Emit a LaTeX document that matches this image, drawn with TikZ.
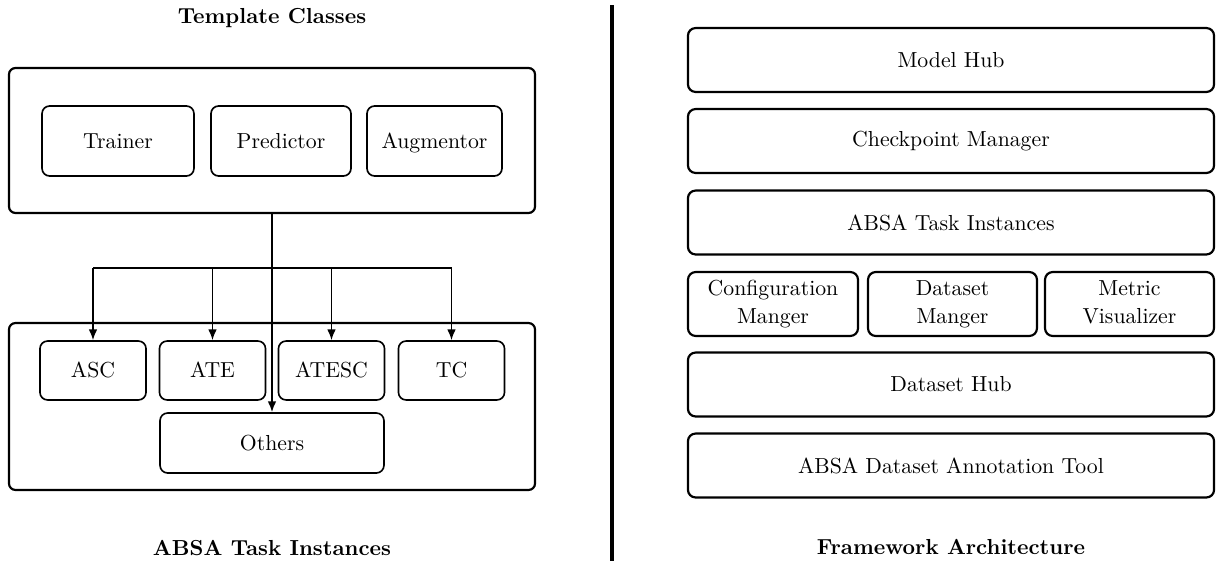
\documentclass[tikz,border=0pt]{standalone}
\usepackage{amsmath}
\usepackage{amssymb}
\usepackage{tikz}
\usetikzlibrary{arrows.meta}

\begin{document}
\begin{tikzpicture}[x=0.46pt,y=0.46pt,yscale=-1,xscale=1,
  frame/.style={draw, line width=1pt, rounded corners=3pt, inner sep=0pt},
  box/.style={draw, line width=0.75pt, rounded corners=3.5pt, align=center, inner sep=0pt, text height=8.8pt, text depth=2pt},
  layer/.style={draw, line width=1pt, rounded corners=3.5pt, align=center, inner sep=0pt, minimum height=29.4pt},
  link/.style={line width=0.75pt, -{Latex[length=5pt,width=4pt]}}]
\useasboundingbox (0,0) rectangle (1217,561);

%Left part: template classes
\node[frame, minimum width=242pt, minimum height=66.7pt] (tmpl) at (272,140.5) {};
\node[box, minimum width=69.9pt, minimum height=32.2pt] (trainer) at (118,141) {Trainer};
\node[box, minimum width=64.4pt, minimum height=32.2pt] (predictor) at (281,141) {Predictor};
\node[box, minimum width=62.1pt, minimum height=32.2pt] (augmentor) at (434.5,141) {Augmentor};

%Left part: task instances
\node[frame, minimum width=242pt, minimum height=76.8pt] (tasks) at (272,406.5) {};
\node[box, minimum width=48.8pt, minimum height=27.1pt] (asc) at (93,370.5) {ASC};
\node[box, minimum width=48.8pt, minimum height=27.1pt] (ate) at (212.5,370.5) {ATE};
\node[box, minimum width=48.8pt, minimum height=27.1pt] (atesc) at (331.5,370.5) {ATESC};
\node[box, minimum width=48.8pt, minimum height=27.1pt] (tc) at (451.5,370.5) {TC};
\node[box, minimum width=103pt, minimum height=27.6pt] (others) at (272,443) {Others};

%Connectors
\coordinate (bus) at (272,268);
\draw [line width=0.75pt] (asc.north |- bus) -- (tc.north |- bus) ;
\draw [link] (asc.north |- bus) -- (asc.north) ;
\draw [link] (ate.north |- bus) -- (ate.north) ;
\draw [link] (atesc.north |- bus) -- (atesc.north) ;
\draw [link] (tc.north |- bus) -- (tc.north) ;
\draw [link] (tmpl.south) -- (others.north) ;

% Text Node
\node[font=\bfseries] (ttmpl) at (272,18) {Template Classes};
% Text Node
\node[font=\bfseries] (ttasks) at (272,548) {ABSA Task Instances};

%Divider
\coordinate (dtop) at (612,5);
\coordinate (dbot) at (612,561);
\draw [line width=1.4pt] (dtop) -- (dbot) ;

%Right part: framework layers
\node[layer, minimum width=242pt] (hub) at (951,60) {Model Hub};
\node[layer, minimum width=242pt] (ckpt) at (951,141) {Checkpoint Manager};
\node[layer, minimum width=242pt] (absa) at (951,222.5) {ABSA Task Instances};
\node[layer, minimum width=78.2pt] (config) at (773,304) {\strut Configuration\\[1pt]\strut Manger};
\node[layer, minimum width=77.7pt] (dsmgr) at (952.5,304) {\strut Dataset\\[1pt]\strut Manger};
\node[layer, minimum width=77.7pt] (metric) at (1129.5,304) {\strut Metric\\[1pt]\strut Visualizer};
\node[layer, minimum width=242pt] (dshub) at (951,384.5) {Dataset Hub};
\node[layer, minimum width=242pt] (annot) at (951,465.5) {ABSA Dataset Annotation Tool};

% Text Node
\node[font=\bfseries] (tframe) at (951,547) {Framework Architecture};
\end{tikzpicture}
\end{document}
